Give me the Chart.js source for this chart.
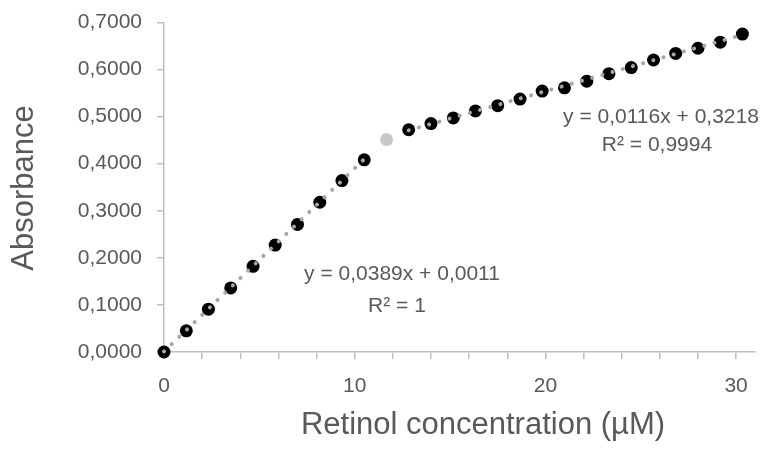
<!DOCTYPE html>
<html>
<head>
<meta charset="utf-8">
<script src="https://cdn.jsdelivr.net/npm/chart.js@4"></script>
<style>
  html, body { margin: 0; padding: 0; background: #fff; }
  #wrap { width: 763px; height: 450px; }
</style>
</head>
<body>
<div id="wrap"><canvas id="myChart" width="763" height="450"></canvas></div>
<script>
// concentrations (µM) and absorbances
const concLow = [0, 1.17, 2.33, 3.5, 4.67, 5.83, 7, 8.17, 9.33, 10.5];
const absLow = [0.000, 0.045, 0.091, 0.136, 0.182, 0.227, 0.271, 0.318, 0.364, 0.408];
const concMid = [11.67];
const absMid = [0.451];
const concHigh = [12.83, 14, 15.17, 16.33, 17.5, 18.67, 19.83, 21, 22.17, 23.33, 24.5, 25.67, 26.83, 28, 29.17, 30.33];
const absHigh = [0.472, 0.485, 0.497, 0.512, 0.523, 0.537, 0.554, 0.561, 0.575, 0.591, 0.604, 0.620, 0.634, 0.645, 0.658, 0.675];

// trendline equations as printed on the chart: [slope, intercept]
const fitLow = [0.0389, 0.0011];
const fitHigh = [0.0116, 0.3218];
const fitLowText = ["y = 0,0389x + 0,0011", "R² = 1"];
const fitHighText = ["y = 0,0116x + 0,3218", "R² = 0,9994"];

const xTicks = [0, 2, 4, 6, 8, 10, 12, 14, 16, 18, 20, 22, 24, 26, 28, 30];
const yTicks = [0, 0.1, 0.2, 0.3, 0.4, 0.5, 0.6, 0.7];

const xTitle = "Retinol concentration (µM)";
const yTitle = "Absorbance";

const textGrey = "#595959";
const axisGrey = "#bfbfbf";

function pts(xs, ys) {
  return xs.map((x, i) => ({ x: x, y: ys[i] }));
}

function fitLine(xs, fit) {
  const a = xs[0], b = xs[xs.length - 1];
  return [{ x: a, y: fit[0] * a + fit[1] }, { x: b, y: fit[0] * b + fit[1] }];
}

const trendStyle = {
  type: "line",
  showLine: true,
  borderColor: "#a6a6a6",
  borderWidth: 4,
  borderDash: [0.1, 10.5],
  borderCapStyle: "round",
  pointRadius: 0,
  fill: false,
  order: 0
};

const labelsPlugin = {
  id: "labelsPlugin",
  afterDraw(chart) {
    const ctx = chart.ctx;
    ctx.save();
    ctx.fillStyle = textGrey;
    ctx.textAlign = "center";
    ctx.textBaseline = "middle";

    ctx.font = "31px 'Liberation Sans', Arial, sans-serif";
    ctx.fillText(xTitle, 483, 425);
    ctx.save();
    ctx.translate(24, 188);
    ctx.rotate(-Math.PI / 2);
    ctx.fillText(yTitle, 0, 0);
    ctx.restore();

    ctx.font = "21px 'Liberation Sans', Arial, sans-serif";
    ctx.fillText(fitLowText[0], 402, 274);
    ctx.fillText(fitLowText[1], 397, 306);
    ctx.fillText(fitHighText[0], 661, 117);
    ctx.fillText(fitHighText[1], 657, 145);
    ctx.restore();
  }
};

const ctx = document.getElementById("myChart").getContext("2d");
new Chart(ctx, {
  type: "scatter",
  data: {
    datasets: [
      Object.assign({ data: fitLine(concLow, fitLow) }, trendStyle),
      Object.assign({ data: fitLine(concHigh, fitHigh) }, trendStyle),
      {
        data: pts(concLow, absLow).concat(pts(concHigh, absHigh)),
        pointRadius: 6.5,
        pointBackgroundColor: "#000",
        pointBorderWidth: 0,
        order: 1
      },
      {
        data: pts(concMid, absMid),
        pointRadius: 6.5,
        pointBackgroundColor: "#c8c8c8",
        pointBorderWidth: 0,
        order: 1
      }
    ]
  },
  options: {
    responsive: false,
    animation: false,
    devicePixelRatio: 1,
    clip: false,
    layout: { padding: { top: 20, right: 6, left: 0, bottom: 0 } },
    plugins: {
      legend: { display: false },
      tooltip: { enabled: false }
    },
    scales: {
      x: {
        type: "linear",
        min: 0,
        max: 31,
        afterFit(scale) { scale.height = 98; },
        afterBuildTicks(scale) { scale.ticks = xTicks.map(v => ({ value: v })); },
        border: { color: axisGrey, width: 1.5 },
        grid: { drawOnChartArea: false, drawTicks: true, tickLength: 7, color: axisGrey, lineWidth: 1.5 },
        ticks: {
          autoSkip: false,
          maxRotation: 0,
          padding: 15,
          color: textGrey,
          font: { family: "'Liberation Sans', Arial, sans-serif", size: 21 },
          callback: v => (v % 10 === 0 ? String(v) : "")
        }
      },
      y: {
        type: "linear",
        min: 0,
        max: 0.7,
        afterFit(scale) { scale.width = 164; },
        afterBuildTicks(scale) { scale.ticks = yTicks.map(v => ({ value: v })); },
        border: { color: axisGrey, width: 1.5 },
        grid: { drawOnChartArea: false, drawTicks: true, tickLength: 7, color: axisGrey, lineWidth: 1.5 },
        ticks: {
          padding: 15,
          color: textGrey,
          font: { family: "'Liberation Sans', Arial, sans-serif", size: 21, lineHeight: 0.7 },
          callback: v => v.toFixed(4).replace(".", ",")
        }
      }
    }
  },
  plugins: [labelsPlugin]
});
</script>
</body>
</html>
